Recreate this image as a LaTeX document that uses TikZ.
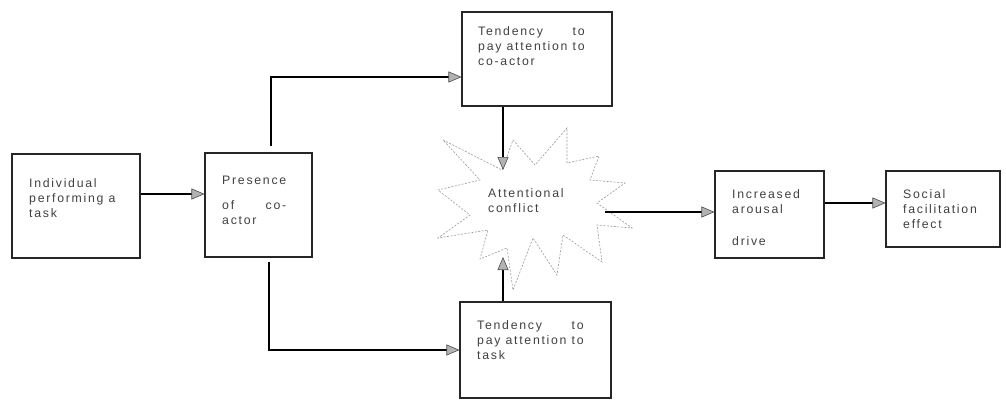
\documentclass[tikz,border=0pt]{standalone}
\usepackage{fontspec}
\newfontfamily\dfont[LetterSpace=14]{Liberation Sans}
\usetikzlibrary{arrows.meta}
\newcommand\justline[2]{\setbox0\hbox{#2}\hbox to \wd0{#1}}
\tikzset{
  box/.style={draw=black!85, line width=1.1pt, rectangle, inner sep=0pt},
  arr/.style={draw=black, line width=1.2pt, -{Triangle[length=13pt,width=11pt,color=black!70,fill=gray!60,line width=0.6pt]}},
  txt/.style={anchor=north west, inner sep=0pt, align=left, text=black!75, font=\dfont\fontsize{12.3}{15}\selectfont},
  star/.style={draw=gray!80, line width=0.6pt, dash pattern=on 2pt off 1.5pt}
}
\begin{document}
\begin{tikzpicture}[x=1pt,y=-1pt]
\useasboundingbox (0,0) rectangle (1006,402);
% boxes
\node[box, minimum width=128pt, minimum height=104pt] (b1) at (76,206) {};
\node[box, minimum width=107pt, minimum height=104pt] (b2) at (258.5,205) {};
\node[box, minimum width=150pt, minimum height=94pt] (t1) at (537,59) {};
\node[box, minimum width=151pt, minimum height=96pt] (t2) at (535.5,350) {};
\node[box, minimum width=109pt, minimum height=87pt] (inc) at (769.5,214.5) {};
\node[box, minimum width=114pt, minimum height=76pt] (soc) at (943,209) {};
% starburst
\draw[star] (443,140) -- (502,170) -- (513,140) -- (535,165) -- (567,128) -- (567,163)
  -- (599,156) -- (590,180) -- (625,183) -- (597,203) -- (632,228) -- (597,225)
  -- (602,262) -- (563,235) -- (557,275) -- (533,238) -- (513,290) -- (507,248)
  -- (480,259) -- (488,230) -- (438,238) -- (470,215) -- (438,190) -- (480,180) -- cycle;
% texts
\node[txt] (b1t) at (29,178) {Individual\\performing a\\task};
\node[txt] (b2t) at (222,176) {Presence\\[10pt]\justline{of\hfill co-}{Presence}\\actor};
\node[txt] (t1t) at (478,26) {\justline{Tendency\hfill to}{pay attention to}\\pay attention to\\co-actor};
\node[txt] (t2t) at (477,320) {\justline{Tendency\hfill to}{pay attention to}\\pay attention to\\task};
\node[txt] (conf) at (488,188) {Attentional\\conflict};
\node[txt] (inct) at (732,189) {Increased\\arousal\\[17pt]drive};
\node[txt] (soct) at (903,189) {Social\\facilitation\\effect};
% connectors
\coordinate (pu) at (271,146);
\coordinate (pd) at (269,262);
\coordinate (st) at (503,170);
\coordinate (sb) at (503,257);
\coordinate (sr) at (605,212);
\draw[arr] (b1.east |- 0,194) -- (b2.west |- 0,194);
\draw[arr] (pu) |- (t1.west |- 0,77);
\draw[arr] (pd) |- (t2.west);
\draw[arr] (t1.south -| st) -- (st);
\draw[arr] (t2.north -| sb) -- (sb);
\draw[arr] (sr) -- (inc.west |- sr);
\draw[arr] (inc.east |- 0,203) -- (soc.west |- 0,203);
\end{tikzpicture}
\end{document}
